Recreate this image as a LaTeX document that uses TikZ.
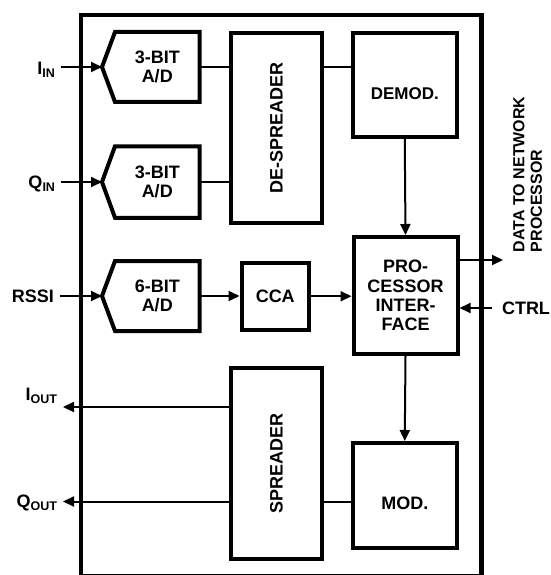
\documentclass[tikz,border=0pt]{standalone}
\usepackage{fontspec}
\setmainfont{Liberation Sans}
\usetikzlibrary{arrows.meta}
\newcommand\subtx[1]{\raisebox{-3pt}{\fontsize{12.5}{12.5}\selectfont #1}}
\tikzset{
  blk/.style={draw, line width=4pt, inner sep=0pt, align=center},
  adshape/.style={inner sep=0pt, outer sep=0pt, align=center, minimum width=84.5pt},
  adline/.style={line width=4pt, line join=miter},
  frame/.style={line width=4.5pt},
  conn/.style={line width=2pt},
  arr/.style={line width=2pt, -{Triangle[length=11pt,width=10pt]}},
  lbl/.style={inner sep=0pt, outer sep=0pt},
}
\begin{document}
\begin{tikzpicture}[x=1pt, y=-1pt, font=\bfseries\fontsize{18}{19.3}\selectfont]
\useasboundingbox (0,0) rectangle (550,575);
\fill[white] (0,0) rectangle (550,575);
% outer frame
\draw[frame] (81,15) rectangle (481.7,576.5);

% A/D converters
\node[adshape, minimum height=70pt] (ad1) at (157.25,67) {3-BIT\\A/D};
\node[adshape, minimum height=71.5pt] (ad2) at (157.25,182) {3-BIT\\A/D};
\node[adshape, minimum height=70pt] (ad3) at (157.25,296) {6-BIT\\A/D};
\coordinate (tip1) at ([xshift=-13pt]ad1.west);
\coordinate (tip2) at ([xshift=-13pt]ad2.west);
\coordinate (tip3) at ([xshift=-13pt]ad3.west);
\draw[adline] (ad1.north west) -- (ad1.north east) -- (ad1.south east) -- (ad1.south west) -- (tip1) -- cycle;
\draw[adline] (ad2.north west) -- (ad2.north east) -- (ad2.south east) -- (ad2.south west) -- (tip2) -- cycle;
\draw[adline] (ad3.north west) -- (ad3.north east) -- (ad3.south east) -- (ad3.south west) -- (tip3) -- cycle;

% blocks
\node[blk, minimum width=90.7pt, minimum height=189.5pt] (desp) at (276.35,127.75) {\rotatebox{90}{DE-SPREADER}};
\node[blk, minimum width=104.5pt, minimum height=104pt, font=\bfseries\fontsize{17}{19}\selectfont] (demod) at (404.75,85) {\raisebox{-9pt}[12pt][0pt]{DEMOD.}};
\node[blk, minimum width=104pt, minimum height=117pt] (proc) at (405.5,295.5) {PRO-\\CESSOR\\INTER-\\FACE};
\node[blk, minimum width=67.5pt, minimum height=66.5pt] (cca) at (275.25,296.25) {CCA};
\node[blk, minimum width=90.7pt, minimum height=191pt] (spread) at (276.35,463.5) {\rotatebox{90}{SPREADER}};
\node[blk, minimum width=104.5pt, minimum height=104.5pt] (mod) at (404.75,495.25) {\raisebox{-8pt}[12pt][0pt]{MOD.}};

% labels
\node[lbl, anchor=base east] (iin) at (55,74.5) {I\subtx{IN}};
\node[lbl, anchor=base east] (qin) at (55,188.5) {Q\subtx{IN}};
\node[lbl, anchor=east] (rssi) at (54,296) {RSSI};
\node[lbl, anchor=base east] (iout) at (57,400) {I\subtx{OUT}};
\node[lbl, anchor=base east] (qout) at (57,507) {Q\subtx{OUT}};
\node[lbl, anchor=west] (ctrl) at (502,308) {CTRL};
\node[lbl, anchor=west, rotate=90, align=left, font=\bfseries\fontsize{16}{17.5}\selectfont] (data) at (527.5,252) {DATA TO NETWORK\\PROCESSOR};

\coordinate (ioutend) at (63,407);
\coordinate (qoutend) at (63,501.5);
\coordinate (dataend) at (503,260);

% input arrows
\draw[arr, shorten <=6pt] (iin.east |- tip1) -- (tip1);
\draw[arr, shorten <=6pt] (qin.east |- tip2) -- (tip2);
\draw[arr, shorten <=6pt] (rssi.east |- tip3) -- (tip3);

% internal connections
\draw[conn] (ad1.east) -- (ad1.east -| desp.west);
\draw[conn] (ad2.east) -- (ad2.east -| desp.west);
\draw[conn] (desp.east |- ad1.east) -- (demod.west |- ad1.east);
\draw[arr] (demod.south) -- (proc.north);
\draw[arr] (ad3.east) -- (ad3.east -| cca.west);
\draw[arr] (cca.east) -- (cca.east -| proc.west);
\draw[arr] (proc.south) -- (mod.north);
\draw[conn] (spread.east |- qoutend) -- (mod.west |- qoutend);

% outputs
\draw[arr] (spread.west |- ioutend) -- (ioutend);
\draw[arr] (spread.west |- qoutend) -- (qoutend);
\draw[arr] (proc.east |- dataend) -- (dataend);
\draw[arr, shorten <=10pt] (ctrl.west) -- (ctrl.west -| proc.east);
\end{tikzpicture}
\end{document}
